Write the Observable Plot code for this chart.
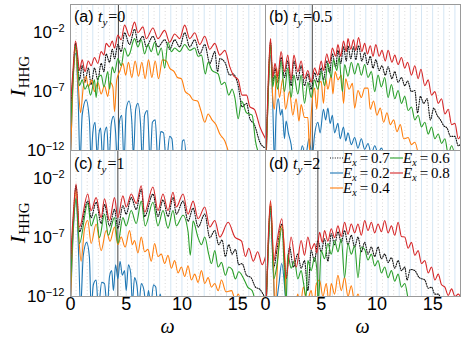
<!DOCTYPE html>
<html><head><meta charset="utf-8">
<script src="https://cdn.jsdelivr.net/npm/d3@7"></script>
<script src="https://cdn.jsdelivr.net/npm/@observablehq/plot@0.6"></script>
<style>
html,body{margin:0;padding:0;background:#fff;}
svg{display:block}
</style></head><body><div id="chart"></div>
<script>
// ---------- data: [omega, log10 I_HHG] ----------
const panels = ["a", "b", "c", "d"];
const tyValues = ["0", "0.5", "1", "2"];
const cutoffOmega = [4.3, 4.2, 4.25, 4.7];
const fieldValues = ["0.7", "0.2", "0.4", "0.6", "0.8"];
const fieldColors = ["#111111", "#1f77b4", "#ff7f0e", "#2ca02c", "#d62728"];
const omegaTicks = [0, 5, 10, 15];
const yTicks = [1e-12, 1e-7, 1e-2];
const harmonics = [1,2,3,4,5,6,7,8,9,10,11,12,13,14,15,16,17];
const halfHarmonics = [0.5,1.5,2.5,3.5,4.5,5.5,6.5,7.5,8.5,9.5,10.5,11.5,12.5,13.5,14.5,15.5,16.5,17.5];

// panel (a) t_y = 0
const a07 = [[0.0,-9],[0.2,-6],[0.45,-2.9],[0.65,-4.5],[0.8,-6.0],[1.05,-4.8],[1.3,-6.2],[1.6,-5.0],[1.85,-6.4],[2.15,-5.0],[2.45,-6.0],[2.75,-4.6],[3.0,-5.3],[3.2,-3.8],[3.5,-4.5],[3.75,-3.4],[3.95,-4.2],[4.25,-3.0],[4.55,-3.6],[4.85,-2.0],[5.3,-3.0],[5.75,-1.7],[6.05,-2.8],[6.5,-2.3],[6.8,-3.2],[7.4,-2.3],[7.85,-3.2],[8.45,-2.6],[8.9,-3.4],[9.35,-2.6],[9.8,-3.2],[10.25,-2.0],[10.7,-3.2],[11.15,-2.6],[11.6,-3.8],[12.05,-3.0],[12.5,-4.6],[12.95,-3.6],[13.2,-5.3],[13.4,-4.2],[13.85,-4.5],[14.3,-5.6],[14.6,-5.5],[15.05,-6.5],[15.4,-8.3],[15.8,-8.0],[16.1,-9.3],[16.5,-9.8],[17.0,-11.3],[17.5,-11.8]];
const a02 = [[0.0,-13],[0.2,-6.5],[0.45,-3.75],[0.7,-8],[0.85,-13],[1.05,-9],[1.4,-7.7],[1.7,-9.5],[1.85,-13],[2.0,-10.5],[2.2,-9.6],[2.4,-12.5],[2.55,-10.6],[2.7,-10.1],[2.9,-13],[3.05,-10.6],[3.25,-10.0],[3.45,-13],[3.65,-9.8],[3.85,-9.1],[4.05,-10.5],[4.2,-13],[4.4,-9.5],[4.6,-9.0],[4.8,-13],[5.0,-8.5],[5.25,-7.8],[5.5,-9.5],[5.65,-12.5],[5.85,-8.5],[6.05,-8.0],[6.3,-10],[6.45,-13],[6.65,-9.0],[6.9,-8.6],[7.15,-13],[7.35,-9.6],[7.6,-9.4],[7.85,-13],[8.1,-10.4],[8.35,-10.5],[8.6,-13],[8.9,-10.8],[9.1,-11.0],[9.3,-13],[9.9,-13],[10.05,-11.2],[10.2,-11.1],[10.4,-13]];
const a04 = [[0.0,-12.5],[0.2,-7],[0.45,-3.3],[0.7,-6.5],[0.9,-8.8],[1.15,-6.6],[1.4,-5.7],[1.6,-6.6],[1.9,-6.0],[2.15,-7.0],[2.45,-6.2],[2.75,-7.2],[3.05,-6.5],[3.35,-7.4],[3.55,-6.2],[3.8,-6.6],[3.95,-8.7],[4.15,-6.0],[4.45,-5.2],[4.7,-4.6],[4.95,-5.6],[5.2,-4.5],[5.5,-5.8],[5.8,-4.4],[6.1,-5.7],[6.4,-4.5],[6.7,-5.9],[7.0,-4.3],[7.3,-5.8],[7.6,-4.4],[7.9,-5.9],[8.25,-4.3],[8.6,-4.4],[8.9,-5.0],[9.3,-5.3],[9.6,-5.8],[9.95,-5.9],[10.3,-7.0],[10.7,-7.3],[11.0,-7.7],[11.4,-7.8],[11.7,-8.6],[12.05,-9.6],[12.35,-8.9],[12.7,-9.4],[13.05,-9.8],[13.4,-10.6],[13.85,-11.2],[14.2,-12.2]];
const a06 = [[0.0,-10],[0.2,-6.5],[0.45,-3.1],[0.65,-5.0],[0.8,-6.5],[1.05,-6.0],[1.3,-6.8],[1.55,-6.4],[1.8,-7.3],[2.15,-6.0],[2.3,-7.5],[2.5,-5.8],[2.75,-5.6],[3.0,-6.6],[3.35,-5.3],[3.5,-6.8],[3.75,-4.9],[3.95,-5.4],[4.25,-4.2],[4.55,-4.8],[4.85,-3.3],[5.15,-4.0],[5.3,-3.8],[5.75,-2.5],[6.05,-3.2],[6.35,-2.6],[6.65,-3.8],[6.95,-3.0],[7.25,-3.6],[7.55,-2.8],[7.85,-3.9],[8.15,-3.3],[8.45,-5.0],[8.75,-2.8],[9.05,-3.6],[9.35,-3.3],[9.8,-3.6],[10.25,-3.0],[10.7,-3.5],[11.15,-3.3],[11.45,-4.0],[11.75,-3.9],[12.1,-5.5],[12.35,-4.5],[12.7,-5.2],[13.25,-5.5],[13.55,-6.4],[13.85,-6.2],[14.2,-7.3],[14.5,-6.8],[14.75,-7.5],[15.05,-9.3],[15.35,-7.8],[15.8,-8.8],[16.3,-9.0],[16.6,-11.2],[17.0,-12.5]];
const a08 = [[0.0,-8.0],[0.2,-5.5],[0.45,-2.7],[0.65,-4.0],[0.8,-5.2],[1.05,-4.3],[1.3,-5.3],[1.6,-4.4],[1.85,-4.8],[2.15,-4.1],[2.45,-4.6],[2.75,-3.6],[3.0,-3.9],[3.2,-2.9],[3.5,-3.2],[3.75,-2.7],[3.95,-3.3],[4.25,-2.2],[4.55,-2.6],[4.85,-1.35],[5.3,-2.3],[5.75,-1.1],[6.05,-2.0],[6.5,-1.5],[6.8,-2.5],[7.4,-1.6],[7.85,-2.5],[8.45,-1.8],[8.9,-2.8],[9.35,-2.1],[9.8,-2.5],[10.25,-1.35],[10.7,-2.5],[11.15,-2.0],[11.6,-3.0],[12.05,-2.3],[12.5,-3.4],[12.95,-2.9],[13.4,-3.9],[13.85,-3.5],[14.3,-4.9],[14.6,-5.6],[15.05,-6.0],[15.4,-7.3],[15.8,-7.3],[16.1,-8.3],[16.5,-8.5],[17.0,-10.0],[17.5,-11.0]];

// panel (b) t_y = 0.5
const b07 = [[0.05,-12.5],[0.25,-6.5],[0.45,-2.8],[0.65,-6.3],[0.85,-5.0],[1.1,-6.2],[1.4,-4.1],[1.7,-5.8],[2.0,-4.4],[2.3,-6.5],[2.55,-4.4],[2.9,-6.0],[3.2,-4.8],[3.5,-6.5],[3.8,-5.5],[4.1,-6.8],[4.4,-5.4],[4.7,-6.2],[5.0,-5.0],[5.2,-6.0],[5.5,-4.4],[5.75,-5.4],[6.0,-3.8],[6.3,-4.9],[6.5,-3.5],[6.75,-4.6],[7.0,-3.2],[7.25,-4.4],[7.4,-3.1],[7.65,-4.2],[7.9,-3.2],[8.1,-4.3],[8.35,-3.1],[8.65,-4.4],[8.9,-3.7],[9.15,-4.7],[9.4,-4.0],[9.65,-5.0],[9.9,-4.3],[10.2,-5.2],[10.45,-4.8],[10.75,-5.6],[11.0,-4.9],[11.35,-5.9],[11.6,-5.3],[11.9,-6.2],[12.2,-5.8],[12.5,-6.5],[12.75,-6.1],[13.1,-7.0],[13.4,-6.9],[13.65,-8.8],[13.9,-7.4],[14.2,-8.0],[14.5,-7.6],[14.8,-9.4],[15.1,-8.4],[15.4,-9.0],[15.7,-9.4],[16.0,-9.9],[16.3,-10.1],[16.6,-10.8],[17.0,-10.8],[17.3,-11.6],[17.6,-11.3]];
const b02 = [[0.05,-13],[0.25,-7],[0.45,-3.9],[0.65,-8],[0.8,-13],[0.95,-9],[1.15,-7.6],[1.35,-9],[1.5,-8.5],[1.7,-11],[1.85,-9.5],[2.05,-10.5],[2.3,-11.5],[2.5,-13],[3.0,-13],[3.3,-11.6],[3.6,-12.5],[3.9,-11.0],[4.2,-12.5],[4.4,-10.7],[4.7,-9.6],[4.9,-10.5],[5.2,-8.5],[5.4,-9.4],[5.6,-8.4],[5.8,-9.7],[6.0,-9.0],[6.2,-10.5],[6.5,-9.7],[6.7,-11.0],[7.0,-10.0],[7.2,-11.2],[7.4,-10.5],[7.7,-11.5],[8.0,-10.9],[8.3,-11.8],[8.6,-11.0],[8.9,-11.9],[9.2,-11.4],[9.5,-12.3],[9.8,-11.6],[10.1,-12.2],[10.4,-11.8],[10.7,-12.6]];
const b04 = [[0.05,-13],[0.25,-7],[0.45,-2.9],[0.65,-7.5],[0.8,-8.5],[1.0,-5.0],[1.25,-7.5],[1.55,-5.9],[1.8,-8.5],[2.15,-7.0],[2.45,-9.0],[2.75,-7.6],[3.0,-9.5],[3.2,-8.1],[3.5,-9.2],[3.8,-9.2],[3.95,-12],[4.1,-9.0],[4.4,-6.7],[4.6,-8.5],[4.8,-6.2],[5.0,-6.15],[5.2,-8.0],[5.4,-5.9],[5.6,-6.8],[5.9,-5.6],[6.05,-7.2],[6.25,-5.3],[6.5,-6.0],[6.8,-5.6],[7.0,-8.0],[7.2,-5.9],[7.5,-6.8],[7.8,-6.3],[8.0,-8.4],[8.3,-6.9],[8.6,-7.5],[8.9,-6.7],[9.2,-6.7],[9.4,-8.5],[9.7,-7.8],[10.0,-9.0],[10.3,-8.4],[10.6,-9.6],[10.9,-8.8],[11.2,-9.8],[11.5,-9.4],[11.8,-10.4],[12.1,-9.8],[12.4,-11.0],[12.8,-10.9],[13.1,-11.5],[13.4,-11.3],[13.7,-12.3]];
const b06 = [[0.05,-12.5],[0.25,-7],[0.45,-3.0],[0.65,-6.6],[0.85,-5.6],[1.1,-6.8],[1.4,-4.4],[1.7,-7.0],[2.0,-5.0],[2.3,-7.5],[2.55,-5.6],[2.9,-7.2],[3.2,-5.6],[3.5,-8.0],[3.8,-6.2],[4.1,-7.5],[4.4,-6.0],[4.7,-6.8],[5.0,-5.3],[5.3,-6.5],[5.6,-4.6],[5.9,-5.8],[6.1,-4.3],[6.4,-5.2],[6.6,-4.1],[6.9,-7.0],[7.1,-4.7],[7.4,-5.7],[7.7,-4.5],[8.0,-5.5],[8.3,-4.6],[8.6,-5.6],[8.9,-4.7],[9.2,-5.8],[9.5,-5.3],[9.8,-7.0],[10.1,-5.6],[10.4,-6.6],[10.7,-5.8],[11.0,-7.5],[11.3,-6.4],[11.6,-7.6],[11.9,-6.9],[12.2,-8.0],[12.5,-7.4],[12.8,-8.6],[13.1,-8.3],[13.4,-9.4],[13.7,-9.0],[14.0,-10.0],[14.3,-9.6],[14.6,-10.6],[14.9,-10.0],[15.2,-11.0],[15.5,-10.6],[15.8,-11.4],[16.1,-11.0],[16.4,-12.3],[16.7,-11.6],[17.0,-12.5]];
const b08 = [[0.05,-12],[0.25,-6],[0.45,-2.5],[0.65,-5.8],[0.85,-4.6],[1.1,-5.7],[1.4,-3.6],[1.7,-5.3],[2.0,-3.9],[2.3,-6.0],[2.55,-3.9],[2.9,-5.3],[3.2,-4.4],[3.5,-5.9],[3.8,-5.2],[4.1,-6.2],[4.4,-5.0],[4.7,-5.6],[5.0,-4.4],[5.2,-5.2],[5.5,-3.8],[5.75,-4.6],[6.0,-3.3],[6.3,-4.0],[6.5,-3.0],[6.75,-4.0],[7.0,-2.7],[7.25,-3.6],[7.4,-2.5],[7.65,-3.4],[7.9,-2.6],[8.1,-3.5],[8.35,-2.4],[8.65,-3.6],[8.9,-2.9],[9.15,-3.8],[9.4,-3.1],[9.65,-4.0],[9.9,-3.0],[10.2,-4.0],[10.45,-3.5],[10.75,-4.4],[11.0,-3.5],[11.35,-4.5],[11.6,-3.9],[11.9,-4.7],[12.2,-4.1],[12.5,-5.0],[12.75,-4.5],[13.1,-5.6],[13.4,-4.8],[13.7,-5.9],[13.95,-5.1],[14.3,-6.5],[14.6,-6.0],[14.9,-7.3],[15.2,-7.0],[15.5,-8.0],[15.8,-7.6],[16.1,-8.9],[16.4,-8.5],[16.7,-9.8],[17.0,-9.7],[17.3,-11.0],[17.6,-10.5]];

// panel (c) t_y = 1
const c07 = [[0.0,-10],[0.25,-5.5],[0.5,-2.6],[0.8,-6.5],[1.55,-3.9],[1.85,-5.3],[2.3,-4.0],[2.75,-5.8],[3.05,-4.2],[3.5,-6.0],[3.95,-4.6],[4.25,-6.2],[4.7,-4.3],[5.0,-5.0],[5.45,-3.6],[5.9,-4.6],[6.35,-2.9],[6.65,-5.2],[7.4,-3.3],[7.85,-5.2],[8.3,-3.8],[8.75,-5.2],[9.2,-3.6],[9.5,-5.0],[10.1,-3.9],[10.55,-5.6],[11.0,-4.5],[11.45,-6.1],[12.05,-5.0],[12.5,-7.0],[12.95,-6.4],[13.3,-7.6],[13.6,-7.2],[13.9,-8.6],[14.2,-7.6],[14.5,-8.4],[14.8,-8.0],[15.1,-9.3],[15.4,-9.2],[15.8,-10.2],[16.2,-10.4],[16.6,-11.2],[17.0,-11.4],[17.5,-12.2]];
const c02 = [[0.0,-13],[0.25,-6.5],[0.5,-3.6],[0.75,-9],[0.9,-13],[1.15,-8.5],[1.45,-7.4],[1.7,-8.7],[1.85,-13],[2.05,-11.0],[2.3,-10.6],[2.5,-13],[2.8,-10.8],[3.05,-10.9],[3.3,-13],[3.5,-10.3],[3.7,-9.8],[3.85,-11.5],[4.05,-9.3],[4.25,-10.5],[4.45,-9.0],[4.65,-10.2],[4.85,-9.8],[5.0,-11.5],[5.2,-9.3],[5.4,-10.0],[5.55,-12.5],[5.75,-10.4],[5.95,-11.0],[6.15,-12.6],[6.35,-10.9],[6.6,-11.5],[6.8,-13],[7.0,-11.5],[7.2,-12.8],[7.45,-11.0],[7.65,-11.2],[7.85,-13],[8.05,-11.8],[8.25,-13]];
const c04 = [[0.0,-12.5],[0.25,-6],[0.5,-3.0],[0.75,-7],[0.95,-9],[1.25,-6.3],[1.55,-5.55],[1.85,-7.5],[2.3,-5.84],[2.75,-8.1],[3.2,-6.4],[3.55,-7.3],[3.95,-6.1],[4.25,-7.6],[4.55,-6.95],[4.9,-7.8],[5.3,-6.4],[5.55,-7.6],[5.75,-7.25],[6.05,-8.3],[6.35,-6.95],[6.65,-8.2],[6.95,-8.0],[7.25,-9.0],[7.55,-7.5],[7.85,-8.6],[8.15,-8.4],[8.45,-9.2],[8.75,-8.5],[9.05,-9.6],[9.35,-8.95],[9.65,-10.0],[9.95,-9.5],[10.25,-10.3],[10.55,-9.4],[10.85,-10.6],[11.15,-10.1],[11.45,-10.8],[11.75,-9.8],[12.05,-10.9],[12.35,-10.4],[12.65,-11.2],[12.95,-10.9],[13.25,-11.5],[13.55,-10.6],[13.95,-11.6],[14.45,-11.5],[14.8,-12.3],[15.05,-11.8],[15.3,-12.5]];
const c06 = [[0.0,-11],[0.25,-6],[0.5,-3.7],[0.8,-7.5],[1.55,-4.1],[1.85,-6.0],[2.3,-5.0],[2.6,-7.0],[3.05,-5.0],[3.4,-6.8],[3.95,-5.3],[4.25,-7.5],[4.7,-5.3],[5.0,-6.0],[5.45,-4.7],[5.9,-5.8],[6.35,-3.9],[6.7,-6.0],[7.4,-4.0],[7.85,-6.0],[8.3,-4.7],[8.75,-6.2],[9.2,-4.7],[9.5,-6.0],[10.1,-5.1],[10.55,-6.5],[10.75,-8.5],[11.0,-5.6],[11.45,-7.0],[11.75,-7.6],[12.05,-6.95],[12.4,-8.4],[12.65,-9.2],[12.95,-8.1],[13.25,-9.5],[13.55,-9.1],[13.9,-10.2],[14.2,-9.5],[14.5,-9.7],[14.8,-10.5],[15.1,-9.9],[15.5,-10.4],[15.9,-11.2],[16.3,-11.5],[16.6,-12.5]];
const c08 = [[0.0,-9],[0.25,-5],[0.5,-2.45],[0.8,-6.1],[1.55,-3.3],[1.85,-4.7],[2.3,-3.6],[2.75,-5.3],[3.05,-3.7],[3.5,-5.55],[3.95,-3.6],[4.25,-5.3],[4.7,-3.45],[5.0,-4.4],[5.45,-3.3],[5.9,-4.1],[6.35,-2.6],[6.65,-4.85],[7.4,-2.7],[7.85,-4.7],[8.3,-3.3],[8.75,-4.7],[9.2,-3.15],[9.5,-4.4],[10.1,-3.3],[10.55,-5.0],[11.0,-3.9],[11.45,-5.4],[12.05,-4.4],[12.5,-6.1],[12.95,-5.55],[13.4,-6.95],[14.15,-5.7],[14.75,-6.95],[15.35,-7.3],[15.7,-8.6],[16.0,-7.9],[16.4,-9.0],[16.8,-8.2],[17.2,-9.3],[17.5,-8.6]];

// panel (d) t_y = 2
const d07 = [[0.05,-13],[0.25,-7.5],[0.45,-4.3],[0.75,-9.5],[1.0,-8.2],[1.47,-5.84],[1.85,-10.5],[2.16,-7.8],[2.5,-9.5],[2.9,-8.4],[3.2,-9.6],[3.5,-8.95],[3.8,-11.5],[4.1,-8.1],[4.4,-9.0],[4.7,-7.25],[5.0,-8.2],[5.3,-7.1],[5.6,-9.0],[5.9,-6.67],[6.2,-7.6],[6.5,-6.5],[6.8,-7.4],[7.1,-6.4],[7.4,-7.6],[7.7,-6.8],[8.0,-7.8],[8.3,-6.95],[8.6,-8.2],[8.9,-7.4],[9.2,-8.4],[9.5,-7.8],[9.8,-8.6],[10.1,-7.8],[10.4,-8.8],[10.7,-8.4],[11.0,-9.1],[11.3,-8.7],[11.6,-9.6],[11.9,-8.95],[12.2,-9.8],[12.5,-9.5],[12.7,-10.6],[13.0,-9.7],[13.4,-9.8],[13.8,-10.4],[14.3,-10.6],[14.6,-11.3],[14.9,-11.2],[15.2,-11.8],[15.5,-11.8],[15.8,-12.5]];
const d02 = [[0.05,-13],[0.25,-8],[0.45,-4.85],[0.7,-10],[0.85,-13],[1.2,-11],[1.45,-9.2],[1.7,-11],[1.85,-13]];
const d04 = [[0.05,-13],[0.25,-7.5],[0.45,-4.0],[0.7,-9],[0.85,-13],[1.15,-8],[1.47,-6.0],[1.75,-9],[1.9,-13],[2.6,-13],[2.9,-11.8],[3.1,-13],[3.4,-11.2],[3.7,-12.5],[4.1,-11.5],[4.35,-13],[4.55,-11.0],[4.85,-10.6],[5.15,-12],[5.45,-10.9],[5.7,-12.5],[5.9,-10.9],[6.2,-11.8],[6.5,-10.2],[6.8,-11.5],[7.1,-10.4],[7.4,-12.0],[7.7,-11.1],[8.0,-12.5],[8.3,-11.8],[8.6,-13]];
const d06 = [[0.05,-13],[0.25,-8],[0.45,-4.4],[0.75,-10.5],[1.0,-9.5],[1.47,-6.2],[1.85,-12.5],[2.0,-8.4],[2.3,-9.6],[2.6,-8.95],[2.9,-10.5],[3.2,-9.8],[3.4,-10.8],[3.65,-12.0],[3.8,-8.95],[4.1,-9.8],[4.4,-8.7],[4.6,-9.6],[4.75,-12.5],[5.0,-8.1],[5.3,-8.8],[5.6,-7.5],[5.9,-8.4],[6.2,-7.25],[6.5,-8.2],[6.8,-7.1],[7.1,-10.4],[7.4,-7.5],[7.7,-8.4],[8.0,-7.7],[8.3,-10.4],[8.6,-7.8],[8.9,-8.0],[9.2,-8.9],[9.5,-8.4],[9.8,-9.4],[10.1,-8.95],[10.4,-10.0],[10.7,-9.5],[11.0,-10.4],[11.3,-9.8],[11.6,-10.7],[11.9,-10.1],[12.2,-11.2],[12.5,-10.9],[12.8,-12.2],[13.0,-13]];
const d08 = [[0.05,-13],[0.25,-7],[0.45,-3.86],[0.75,-8.95],[1.0,-7.5],[1.47,-5.4],[1.86,-10.4],[2.3,-6.95],[2.76,-9.5],[3.2,-7.25],[3.5,-8.5],[3.8,-6.95],[4.1,-8.0],[4.4,-7.5],[4.6,-8.3],[4.85,-6.55],[5.1,-7.4],[5.3,-6.4],[5.6,-7.3],[5.9,-6.25],[6.2,-7.0],[6.5,-6.0],[6.8,-6.9],[7.1,-5.7],[7.4,-6.7],[7.7,-5.84],[8.0,-6.6],[8.3,-5.84],[8.6,-6.8],[8.9,-5.55],[9.2,-6.4],[9.5,-5.7],[9.8,-6.6],[10.1,-5.84],[10.4,-6.5],[10.7,-5.55],[11.0,-6.6],[11.3,-6.0],[11.6,-6.8],[11.9,-5.7],[12.2,-6.9],[12.5,-6.95],[12.8,-7.9],[13.1,-7.4],[13.4,-8.5],[13.7,-8.1],[14.0,-9.2],[14.3,-8.95],[14.6,-10.0],[14.9,-9.5],[15.2,-10.6],[15.5,-10.1],[15.8,-11.0],[16.1,-11.2],[16.4,-11.9],[16.7,-11.35],[17.0,-12.0],[17.3,-11.8],[17.6,-12.2]];

const spectra = {
  a: [a07, a02, a04, a06, a08],
  b: [b07, b02, b04, b06, b08],
  c: [c07, c02, c04, c06, c08],
  d: [d07, d02, d04, d06, d08]
};

// ---------- layout ----------
const W = 463, H = 348, ML = 70, MR = 3, MT = 3, MB = 52;
const panelCol = ["L", "R", "L", "R"];
const panelRow = ["T", "T", "B", "B"];

const rows = [];
panels.forEach((p, i) => spectra[p].forEach((pts, k) => pts.forEach(([w, e]) =>
  rows.push({p, fx: panelCol[i], fy: panelRow[i], k, w, I: Math.pow(10, e)}))));
const cutRows = panels.map((p, i) => ({fx: panelCol[i], fy: panelRow[i], w: cutoffOmega[i]}));

const dotted = "1,1.4";
const lineMarks = fieldValues.map((f, k) => {
  const o = {x: "w", y: "I", fx: "fx", fy: "fy", stroke: fieldColors[k], strokeWidth: 1.1, curve: "monotone-x", clip: true};
  if (k === 0) { o.strokeDasharray = dotted; o.strokeWidth = 1.1; }
  return Plot.line(rows.filter(r => r.k === k), o);
});

const plot = Plot.plot({
  width: W, height: H,
  marginLeft: ML, marginRight: MR, marginTop: MT, marginBottom: MB,
  style: {fontFamily: "'Liberation Sans', Arial, sans-serif", background: "white", overflow: "visible"},
  fx: {domain: ["L", "R"], padding: 0, axis: null},
  fy: {domain: ["T", "B"], padding: 0, axis: null},
  x: {domain: [0, 17.5]},
  y: {type: "log", domain: [1e-12, Math.pow(10, 0.4)]},
  marks: [
    Plot.ruleX(halfHarmonics, {stroke: "#cfcfcf", strokeDasharray: "1,2.5", strokeWidth: 0.8}),
    Plot.ruleX(harmonics, {stroke: "#d4e6f4", strokeWidth: 1}),
    Plot.ruleX(cutRows, {x: "w", fx: "fx", fy: "fy", stroke: "#444", strokeWidth: 1}),
    ...lineMarks,
    Plot.frame({stroke: "#9a9a9a"}),
    Plot.axisX(omegaTicks, {tickSize: 0, tickPadding: 1, fontSize: 18, label: null, fill: "#000"}),
    Plot.axisY(yTicks, {tickSize: 0, tickPadding: 6, fontSize: 17, label: null, fill: "#000",
      tickFormat: d => "10^" + Math.round(Math.log10(d))})
  ]
});
document.getElementById("chart").appendChild(plot);

// ---------- typeset superscripts and labels ----------
const svg = d3.select(plot);
svg.selectAll("text").each(function() {
  const t = this.textContent;
  const m = /^10\^(.+)$/.exec(t);
  if (m) {
    const sel = d3.select(this);
    sel.text("10");
    sel.append("tspan").attr("dy", "-0.55em").attr("font-size", "11px").text(m[1].replace("-", "\u2212"));
  }
});

const fw = (W - ML - MR) / 2, fh = (H - MT - MB) / 2;
const colX = {L: ML, R: ML + fw};
const rowY = {T: MT, B: MT + fh};
const serif = "'Liberation Serif', 'Times New Roman', serif";
const sans = "'Liberation Sans', Arial, sans-serif";
const ann = svg.append("g").attr("text-anchor", "start");

panels.forEach((p, i) => {
  const t = ann.append("text")
    .attr("x", colX[panelCol[i]] + 4).attr("y", rowY[panelRow[i]] + 19)
    .attr("text-anchor", "start")
    .attr("font-family", serif).attr("font-size", 16).attr("fill", "#000");
  t.append("tspan").attr("font-family", sans).text("(" + p + ") ");
  t.append("tspan").attr("font-style", "italic").text("t");
  t.append("tspan").attr("font-style", "italic").attr("font-size", 11).attr("dy", 4).text("y");
  t.append("tspan").attr("dy", -4).attr("dx", 1).text("=" + tyValues[i]);
});

// y labels
["T", "B"].forEach(r => {
  const cy = rowY[r] + fh / 2;
  const t = ann.append("text")
    .attr("transform", `translate(25,${cy}) rotate(-90)`)
    .attr("text-anchor", "middle").attr("font-family", serif).attr("font-size", 22).attr("fill", "#000");
  t.append("tspan").attr("font-style", "italic").text("I");
  t.append("tspan").attr("font-size", 15).attr("dy", 4).attr("dx", 1).text("HHG");
});

// x labels
["L", "R"].forEach(c => {
  ann.append("text")
    .attr("x", colX[c] + fw / 2).attr("y", 333)
    .attr("text-anchor", "middle").attr("font-family", serif).attr("font-style", "italic")
    .attr("font-size", 20).attr("fill", "#000").text("\u03c9");
});

// legend inside panel (d)
const legendCols = [0, 0, 0, 1, 1];
const legendRows = [0, 1, 2, 0, 1];
const lgX = [330, 390], lgY0 = 163, lgDy = 15;
fieldValues.forEach((f, k) => {
  const x0 = lgX[legendCols[k]], y0 = lgY0 + legendRows[k] * lgDy;
  const ln = ann.append("line").attr("x1", x0).attr("x2", x0 + 13).attr("y1", y0 - 5).attr("y2", y0 - 5)
    .attr("stroke", fieldColors[k]).attr("stroke-width", 1.1);
  if (k === 0) ln.attr("stroke-dasharray", dotted);
  const t = ann.append("text").attr("x", x0 + 13).attr("y", y0).attr("text-anchor", "start")
    .attr("font-family", serif).attr("font-size", 15).attr("fill", "#000");
  t.append("tspan").attr("font-style", "italic").text("E");
  t.append("tspan").attr("font-style", "italic").attr("font-size", 10).attr("dy", 3).text("x");
  t.append("tspan").attr("dy", -3).text("\u2009=\u2009" + f);
});
</script></body></html>
